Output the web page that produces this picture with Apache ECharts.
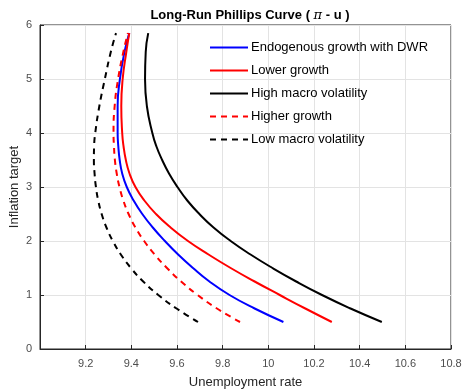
<!DOCTYPE html>
<html style="height: 100%">
<head>
<meta charset="UTF-8">
<title>Long-Run Phillips Curve</title>
<script src="https://cdn.jsdelivr.net/npm/echarts@6/dist/echarts.min.js"></script>
</head>
<body style="height:100%; margin:0; background:#fff">
<div id="chart" style="width:463px;height:389px;"></div>
<script>
// inflation target levels (y) shared by all curves
var piLevels = [0.5, 0.75, 1, 1.25, 1.5, 1.75, 2, 2.25, 2.5, 2.75, 3, 3.25, 3.5, 3.75, 4, 4.5, 5, 5.5, 5.85];
// unemployment rate (x) at each level
var uBaseline = [10.066, 9.94, 9.83, 9.742, 9.67, 9.605, 9.547, 9.494, 9.448, 9.41, 9.38, 9.36, 9.349, 9.343, 9.34, 9.34, 9.35, 9.37, 9.391];
var uLowerGrowth = [10.278, 10.162, 10.05, 9.94, 9.835, 9.738, 9.648, 9.572, 9.508, 9.457, 9.418, 9.392, 9.376, 9.366, 9.36, 9.356, 9.362, 9.378, 9.391];
var uHighVol = [10.497, 10.36, 10.235, 10.122, 10.018, 9.922, 9.835, 9.76, 9.698, 9.645, 9.602, 9.565, 9.535, 9.51, 9.492, 9.468, 9.46, 9.463, 9.474];
var uHigherGrowth = [9.876, 9.775, 9.69, 9.618, 9.556, 9.502, 9.456, 9.418, 9.388, 9.365, 9.348, 9.336, 9.328, 9.324, 9.322, 9.327, 9.342, 9.365, 9.385];
var uLowVol = [9.692, 9.598, 9.518, 9.452, 9.398, 9.354, 9.319, 9.291, 9.27, 9.255, 9.245, 9.239, 9.236, 9.237, 9.242, 9.26, 9.284, 9.31, 9.333];
var seriesNames = ['Endogenous growth with DWR', 'Lower growth', 'High macro volatility', 'Higher growth', 'Low macro volatility'];

function pairs(u) {
  var out = [];
  for (var i = 0; i < u.length; i++) out.push([u[i], piLevels[i]]);
  return out;
}

var chart = echarts.init(document.getElementById('chart'));
var font = 'Liberation Sans, Arial, sans-serif';

function mk(name, u, color, type) {
  return {
    name: name,
    type: 'line',
    data: pairs(u),
    smooth: 0.5,
    showSymbol: false,
    symbol: 'none',
    lineStyle: { color: color, width: 2, type: type },
    itemStyle: { color: color },
    z: 3
  };
}

var option = {
  animation: false,
  textStyle: { fontFamily: font },
  title: {
    text: 'Long-Run Phillips Curve ( {p|π} - u )',
    left: 245,
    textAlign: 'center',
    top: 4,
    textStyle: {
      fontSize: 13, fontWeight: 'bold', color: '#000', fontFamily: font,
      rich: { p: { fontFamily: 'DejaVu Serif, serif', fontStyle: 'italic', fontSize: 13, fontWeight: 'normal', color: '#000' } }
    }
  },
  legend: {
    orient: 'vertical',
    left: 204,
    top: 36,
    itemWidth: 38,
    itemHeight: 14,
    itemGap: 10,
    itemStyle: { opacity: 0 },
    textStyle: { fontSize: 13, color: '#000', fontFamily: font, padding: [0, 0, 0, -2] },
    data: seriesNames
  },
  grid: {
    left: 40, right: 12, top: 25, bottom: 40,
    containLabel: false,
    outerBoundsMode: 'none',
    show: true, borderColor: '#262626', borderWidth: 1
  },
  xAxis: {
    type: 'value',
    min: 9.0, max: 10.8, interval: 0.2,
    name: 'Unemployment rate',
    nameLocation: 'middle',
    nameGap: 27,
    nameMoveOverlap: false,
    nameTextStyle: { fontSize: 13, color: '#262626' },
    axisLine: { show: true, onZero: false, lineStyle: { color: '#262626' } },
    axisTick: { show: true, inside: true, length: 4, lineStyle: { color: '#262626' } },
    axisLabel: {
      color: '#4d4d4d', fontSize: 11, margin: 9,
      formatter: function (v) { return Math.abs(v - 9) < 1e-6 ? '' : String(Math.round(v * 10) / 10); }
    },
    splitLine: { show: true, lineStyle: { color: '#e3e3e3' } }
  },
  yAxis: {
    type: 'value',
    min: 0, max: 6, interval: 1,
    name: 'Inflation target',
    nameLocation: 'middle',
    nameGap: 19,
    nameMoveOverlap: false,
    nameTextStyle: { fontSize: 13, color: '#262626' },
    axisLine: { show: true, lineStyle: { color: '#262626' } },
    axisTick: { show: true, inside: true, length: 4, lineStyle: { color: '#262626' } },
    axisLabel: { color: '#4d4d4d', fontSize: 11, margin: 8 },
    splitLine: { show: true, lineStyle: { color: '#e3e3e3' } }
  },
  series: [
    mk(seriesNames[0], uBaseline, '#0000ff', 'solid'),
    mk(seriesNames[1], uLowerGrowth, '#ff0000', 'solid'),
    mk(seriesNames[2], uHighVol, '#000000', 'solid'),
    mk(seriesNames[3], uHigherGrowth, '#ff0000', [6, 5]),
    mk(seriesNames[4], uLowVol, '#000000', [6, 5])
  ]
};
chart.setOption(option);
</script>
</body>
</html>
